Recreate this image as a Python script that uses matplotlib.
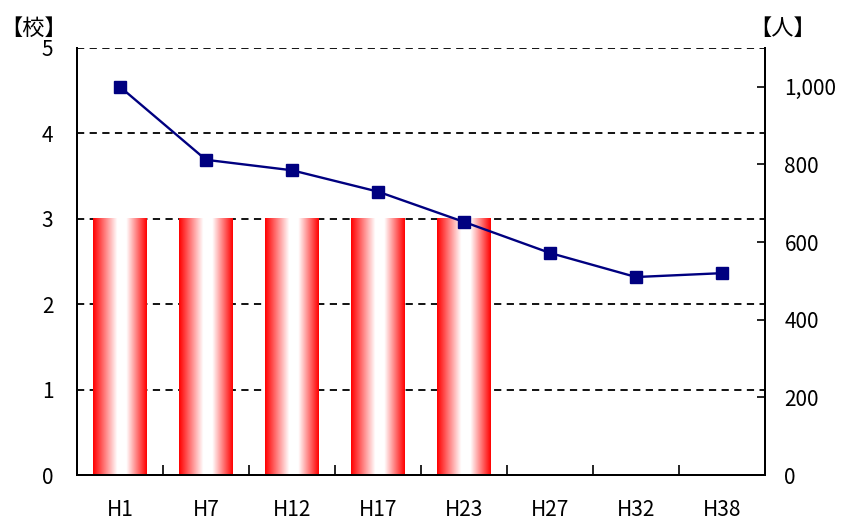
import matplotlib.pyplot as plt
import numpy as np
from matplotlib.colors import LinearSegmentedColormap

plt.rcParams['font.family'] = ['Noto Sans CJK JP', 'DejaVu Sans']

years = ['H1', 'H7', 'H12', 'H17', 'H23', 'H27', 'H32', 'H38']
schools = [3, 3, 3, 3, 3]
students = [1000, 812, 785, 730, 652, 572, 510, 520]

fig = plt.figure(figsize=(8.44, 5.2), dpi=100)
ax = fig.add_axes([0.0912, 0.0865, 0.8152, 0.8212])
ax2 = ax.twinx()

x = np.arange(len(years))

# bars with a red-white-red horizontal gradient
bars = ax.bar(x[:len(schools)], schools, width=0.62, color='none', edgecolor='none')
grad_cmap = LinearSegmentedColormap.from_list(
    'rw', [(0, '#ff0000'), (0.45, '#ffffff'), (0.62, '#ffffff'), (1, '#ff0000')])
grad = np.linspace(0, 1, 256).reshape(1, -1)
for b in bars:
    x0, y0 = b.get_x(), b.get_y()
    ax.imshow(grad, cmap=grad_cmap, aspect='auto', interpolation='bilinear',
              extent=(x0, x0 + b.get_width(), y0, y0 + b.get_height()), zorder=2)

ax.set_xlim(-0.5, len(years) - 0.5)
ax.set_ylim(0, 5)
ax.set_yticks(range(6))
for v in range(1, 6):
    ax.axhline(v, color='black', lw=1.3, ls=(0, (4, 3)), zorder=1)

ax2.plot(x, students, color='#000080', lw=1.7, marker='s', markersize=8, zorder=3)
ax2.set_ylim(0, 1100)
ax2.set_yticks(range(0, 1001, 200))
ax2.set_yticklabels([f'{v:,}' for v in range(0, 1001, 200)])

ax.set_xticks(x)
ax.set_xticklabels(years)
ax.set_xticks(np.arange(-0.5, len(years)), minor=True)
ax.tick_params(axis='x', which='major', length=0, pad=17, labelsize=15)
ax.tick_params(axis='x', which='minor', direction='in', length=7, width=1.2)
ax.tick_params(axis='y', length=0, pad=17, labelsize=15)
ax2.tick_params(axis='y', direction='in', length=6, width=1.2, pad=14, labelsize=15)

for a in (ax, ax2):
    a.spines['top'].set_visible(False)
    for s in ('left', 'right', 'bottom'):
        a.spines[s].set_linewidth(1.4)

fig.text(0.0, 0.946, '【校】', fontsize=16, ha='left', va='center')
fig.text(0.888, 0.946, '【人】', fontsize=16, ha='left', va='center')

fig.savefig('out.png', dpi=100)
